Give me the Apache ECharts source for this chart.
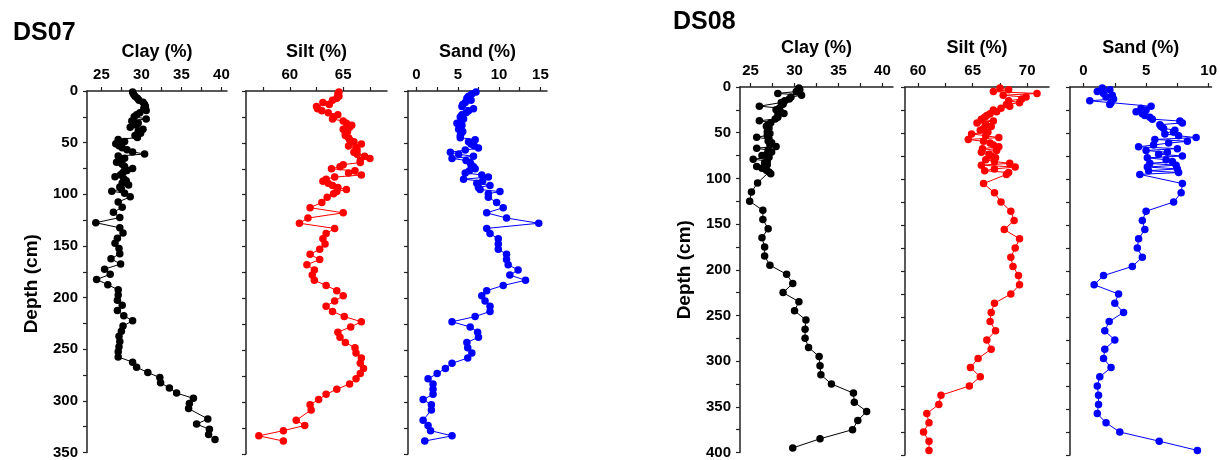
<!DOCTYPE html>
<html>
<head>
<meta charset="utf-8">
<script src="https://cdn.jsdelivr.net/npm/echarts@6/dist/echarts.min.js"></script>
<style>
  html, body { margin: 0; background: #fff; }
  #chart { width: 1220px; height: 460px; }
</style>
</head>
<body>
<div id="chart"></div>
<script>
// DS07 core: sample depths (cm) and grain size fractions (%)
const ds07Depth = [
  1, 3, 5, 7, 9, 11, 13, 15, 17, 19,
  21, 23, 25, 27, 29, 31, 33, 35, 37, 39,
  41, 43, 45, 47, 49, 51, 53, 55, 57, 59,
  61, 63, 65, 67, 69, 71, 73, 75, 77, 79,
  81, 83, 85, 87, 89, 91, 93, 95, 97, 99,
  102.5, 107.5, 112.5, 117.5, 122.5, 127.5, 132.5, 137.5, 142.5, 147.5,
  152.5, 157.5, 162.5, 167.5, 172.5, 177.5, 182.5, 187.5, 192.5, 197.5,
  202.5, 207.5, 212.5, 217.5, 222.5, 227.5, 232.5, 237.5, 242.5, 247.5,
  252.5, 257.5, 262.5, 267.5, 272.5, 277.5, 282.5, 287.5, 292.5, 297.5,
  302.5, 307.5,
  317.5, 322.5, 327.5, 332.5, 337.5
];
const ds07Clay = [
  28.9, 29.0, 29.2, 29.5, 29.7, 30.2, 30.4, 30.5, 30.3, 30.6,
  29.8, 29.4, 29.1, 30.6, 28.8, 29.6, 29.4, 28.6, 30.2, 29.6,
  29.9, 29.2, 29.5, 27.1, 27.9, 26.8, 27.2, 27.6, 28.2, 28.9,
  30.4, 27.1, 27.9, 27.4, 26.9, 27.6, 27.9, 28.9, 28.2, 27.7,
  27.4, 26.7, 27.8, 28.1, 27.6, 28.4, 27.3, 27.5, 26.3, 27.9,
  28.6, 27.1, 27.6, 26.5, 27.3, 24.3, 27.3, 27.7, 27.0, 26.7,
  27.2, 27.3, 26.2, 27.4, 25.4, 26.1, 24.4, 25.8, 27.1, 27.1,
  27.0, 27.6, 27.0, 27.8, 28.9, 27.7, 27.5, 27.2, 27.3, 27.2,
  27.1, 27.1, 28.9, 29.4, 30.8, 32.3, 32.4, 33.5, 34.4, 36.5,
  36.0, 35.9,
  38.3, 36.9, 38.5, 38.4, 39.2
];
const ds07Silt = [
  64.6, 64.5, 64.6, 64.4, 64.0, 63.1, 63.7, 62.5, 62.6, 63.0,
  63.6, 64.5, 64.1, 64.0, 65.0, 65.3, 65.8, 65.6, 65.0, 65.4,
  65.2, 65.2, 65.5, 65.6, 66.0, 66.7, 65.5, 66.2, 66.3, 66.0,
  66.3, 67.0, 67.5, 66.6, 66.6, 65.0, 64.7, 63.9, 66.1, 65.5,
  66.7, 64.2, 63.4, 63.1, 63.6, 64.0, 64.5, 65.3, 64.4, 64.1,
  63.5, 63.0, 61.9, 65.0, 61.7, 60.9, 64.2, 63.4, 63.1, 63.3,
  62.8, 61.9, 62.8, 61.6, 62.3, 62.1, 62.3, 63.4, 64.4, 65.0,
  64.2, 63.4, 64.0, 65.1, 66.7, 65.7, 64.5, 64.7, 65.2, 66.1,
  66.2, 66.7, 66.6, 66.9, 66.6, 66.2, 65.6, 64.4, 63.4, 62.7,
  61.9, 62.0,
  60.6, 61.4, 59.4, 57.1, 59.4
];
const ds07Sand = [
  7.2, 6.7, 6.3, 6.1, 6.6, 5.9, 5.6, 5.5, 6.9, 6.3,
  6.0, 5.5, 5.3, 5.7, 5.4, 4.9, 5.5, 5.2, 5.1, 5.6,
  5.4, 5.3, 5.3, 7.1, 6.3, 6.6, 7.0, 7.5, 5.9, 4.1,
  5.1, 6.9, 4.3, 6.0, 6.5, 6.6, 6.9, 7.1, 6.4, 5.9,
  7.9, 8.7, 5.7, 8.0, 7.3, 8.9, 7.5, 7.7, 10.1, 8.7,
  8.7, 9.7, 10.5, 8.5, 10.9, 14.8, 8.5, 8.9, 9.9, 9.9,
  9.9, 10.9, 10.9, 11.1, 12.3, 11.3, 13.2, 10.5, 8.5, 7.9,
  8.3, 8.9, 8.9, 7.1, 4.3, 6.5, 7.4, 7.5, 6.1, 6.2,
  6.7, 6.2, 4.3, 3.5, 2.5, 1.4, 2.0, 2.0, 2.0, 0.8,
  1.8, 1.8,
  0.8, 1.4, 1.7, 4.3, 1.0
];

// DS08 core
const ds08Depth = [
  1, 3, 5, 7, 9, 11, 13, 15, 17, 19,
  21, 23, 25, 27, 29, 31, 33, 35, 37, 39,
  41, 43, 45, 47, 49, 51, 53, 55, 57, 59,
  61, 63, 65, 67, 69, 71, 73, 75, 77, 79,
  81, 83, 85, 87, 89, 91, 93, 95,
  105, 115, 125, 135, 145, 155, 165, 175, 185, 195,
  205, 215, 225, 235, 245, 255, 265, 275, 285, 295,
  305, 315, 325, 335, 345, 355, 365, 375, 385, 395
];
const ds08Clay = [
  30.5, 30.6, 30.2, 28.1, 30.8, 29.6, 29.4, 28.9, 28.5, 28.7,
  26.0, 28.3, 27.9, 28.4, 28.8, 28.1, 28.1, 27.8, 26.0, 27.3,
  27.0, 26.8, 27.1, 27.0, 26.9, 27.2, 26.9, 25.7, 27.1, 27.0,
  27.4, 27.2, 27.9, 25.7, 27.0, 27.4, 26.9, 26.3, 27.1, 25.3,
  26.9, 26.6, 26.9, 25.7, 26.3, 26.8, 27.1, 27.3,
  25.8, 25.1, 24.9, 26.4, 26.4, 27.0, 26.3, 26.6, 26.6, 27.2,
  29.1, 29.8, 28.7, 30.5, 30.0, 31.3, 31.2, 31.2, 31.6, 32.8,
  32.9, 33.0, 34.2, 36.7, 36.8, 38.2, 37.2, 36.6, 32.9, 29.8
];
const ds08Silt = [
  67.5, 68.3, 66.9, 70.9, 67.8, 69.9, 69.5, 68.3, 69.3, 68.1,
  68.4, 67.6, 66.9, 67.2, 66.6, 66.3, 66.1, 65.8, 66.9, 65.4,
  66.2, 66.7, 66.0, 65.7, 66.4, 64.9, 66.2, 67.4, 64.6, 66.0,
  66.6, 66.9, 67.4, 65.9, 67.2, 65.8, 66.5, 66.7, 67.1, 66.2,
  67.0, 68.4, 65.8, 68.9, 67.0, 66.1, 68.3, 68.1,
  66.0, 67.0, 67.6, 68.5, 68.8, 67.9, 69.3, 68.9, 68.5, 68.7,
  69.2, 69.3, 68.5, 67.0, 66.7, 66.6, 67.1, 66.3, 66.7, 65.5,
  64.8, 65.7, 64.7, 62.1, 61.9, 60.8, 61.0, 60.5, 61.0, 61.0
];
const ds08Sand = [
  1.5, 2.1, 1.1, 1.6, 2.3, 1.8, 2.4, 0.5, 2.2, 2.1,
  5.4, 4.6, 5.0, 4.2, 4.7, 4.9, 5.3, 5.5, 7.7, 7.9,
  6.1, 6.2, 6.4, 7.3, 7.2, 6.5, 7.6, 9.0, 5.7, 8.3,
  6.8, 5.6, 4.4, 7.5, 5.0, 6.7, 6.0, 7.9, 5.1, 6.6,
  7.1, 5.3, 7.4, 5.1, 7.5, 5.2, 7.6, 4.5,
  7.9, 7.8, 7.2, 5.0, 4.7, 4.9, 4.4, 4.3, 4.7, 3.9,
  1.6, 0.85, 2.8, 2.5, 3.2, 2.05, 1.7, 2.5, 1.7, 1.6,
  2.2, 1.3, 1.1, 1.2, 1.2, 1.1, 1.8, 2.9, 6.05, 9.1
];

// tick positions for the top axes
const clayTicks = [25, 27.5, 30, 32.5, 35, 37.5, 40];
const clayLabels = [25, 30, 35, 40];
const ds07SiltTicks = [57.5, 60, 62.5, 65, 67.5];
const ds07SiltLabels = [60, 65];
const ds08SiltTicks = [60, 62.5, 65, 67.5, 70];
const ds08SiltLabels = [60, 65, 70];
const ds07SandTicks = [0, 2.5, 5, 7.5, 10, 12.5, 15];
const ds07SandLabels = [0, 5, 10, 15];
const ds08SandTicks = [0, 2.5, 5, 7.5, 10];
const ds08SandLabels = [0, 5, 10];

const FONT = '"Liberation Sans", Arial, sans-serif';
const chart = echarts.init(document.getElementById('chart'));

const grids = [], xAxes = [], yAxes = [], series = [];

function addPanel(o) {
  const i = grids.length;
  grids.push({ left: o.left, top: o.top, width: o.width, height: o.height });
  xAxes.push({
    gridIndex: i,
    type: 'value',
    position: 'top',
    min: o.min,
    max: o.max,
    name: o.name,
    nameLocation: 'middle',
    nameGap: 30,
    nameTextStyle: { fontFamily: FONT, fontWeight: 'bold', fontSize: 18, color: '#000' },
    axisLine: { show: true, onZero: false, lineStyle: { color: '#222', width: 1.5 } },
    axisTick: { show: true, length: 4, customValues: o.ticks, lineStyle: { color: '#222', width: 1.2 } },
    axisLabel: { customValues: o.labels, margin: 9, fontFamily: FONT, fontWeight: 'bold', fontSize: 15, color: '#000' },
    splitLine: { show: false },
  });
  yAxes.push({
    gridIndex: i,
    type: 'value',
    inverse: true,
    min: 0,
    max: o.depthMax,
    interval: 25,
    name: o.showDepth ? 'Depth (cm)' : '',
    nameLocation: 'middle',
    nameGap: 46,
    nameTextStyle: { fontFamily: FONT, fontWeight: 'bold', fontSize: 19, color: '#000', padding: o.namePad || 0 },
    axisLine: { show: true, onZero: false, lineStyle: { color: '#222', width: 1.5 } },
    axisTick: { show: true, length: 4, lineStyle: { color: '#222', width: 1.2 } },
    axisLabel: {
      show: o.showDepth,
      margin: 9,
      fontFamily: FONT, fontWeight: 'bold', fontSize: 15, color: '#000',
      formatter: (v) => (v % 50 === 0 ? String(v) : ''),
    },
    splitLine: { show: false },
  });
  series.push({
    type: 'line',
    xAxisIndex: i,
    yAxisIndex: i,
    data: o.depth.map((d, k) => [o.values[k], d]),
    symbol: 'circle',
    symbolSize: 7.5,
    showSymbol: true,
    itemStyle: { color: o.color },
    lineStyle: { color: o.color, width: 1 },
    emphasis: { disabled: true },
  });
}

// DS07
addPanel({ left: 87, top: 91, width: 140, height: 363, min: 23.2, max: 40.7, ticks: clayTicks, labels: clayLabels,
  name: 'Clay (%)', depth: ds07Depth, values: ds07Clay, depthMax: 350, showDepth: true, namePad: [0, 24, 0, 0], color: '#000000' });
addPanel({ left: 246, top: 91, width: 141, height: 363, min: 55.9, max: 69.1, ticks: ds07SiltTicks, labels: ds07SiltLabels,
  name: 'Silt (%)', depth: ds07Depth, values: ds07Silt, depthMax: 350, showDepth: false, color: '#ff0000' });
addPanel({ left: 408, top: 91, width: 139, height: 363, min: -1.03, max: 15.8, ticks: ds07SandTicks, labels: ds07SandLabels,
  name: 'Sand (%)', depth: ds07Depth, values: ds07Sand, depthMax: 350, showDepth: false, color: '#0000ff' });
// DS08
addPanel({ left: 740, top: 87, width: 153, height: 368, min: 23.8, max: 41.2, ticks: clayTicks, labels: clayLabels,
  name: 'Clay (%)', depth: ds08Depth, values: ds08Clay, depthMax: 400, showDepth: true, color: '#000000' });
addPanel({ left: 905, top: 87, width: 144, height: 368, min: 58.8, max: 72, ticks: ds08SiltTicks, labels: ds08SiltLabels,
  name: 'Silt (%)', depth: ds08Depth, values: ds08Silt, depthMax: 400, showDepth: false, color: '#ff0000' });
addPanel({ left: 1070, top: 87, width: 147, height: 368, min: -1.08, max: 10.23, ticks: ds08SandTicks, labels: ds08SandLabels,
  name: 'Sand (%)', depth: ds08Depth, values: ds08Sand, depthMax: 400, showDepth: false, color: '#0000ff' });

chart.setOption({
  animation: false,
  backgroundColor: '#fff',
  title: [
    { text: 'DS07', left: 8, top: 16, textStyle: { fontFamily: FONT, fontWeight: 'bold', fontSize: 25, color: '#000' } },
    { text: 'DS08', left: 668, top: 5, textStyle: { fontFamily: FONT, fontWeight: 'bold', fontSize: 25, color: '#000' } },
  ],
  grid: grids,
  xAxis: xAxes,
  yAxis: yAxes,
  series: series,
});
</script>
</body>
</html>
